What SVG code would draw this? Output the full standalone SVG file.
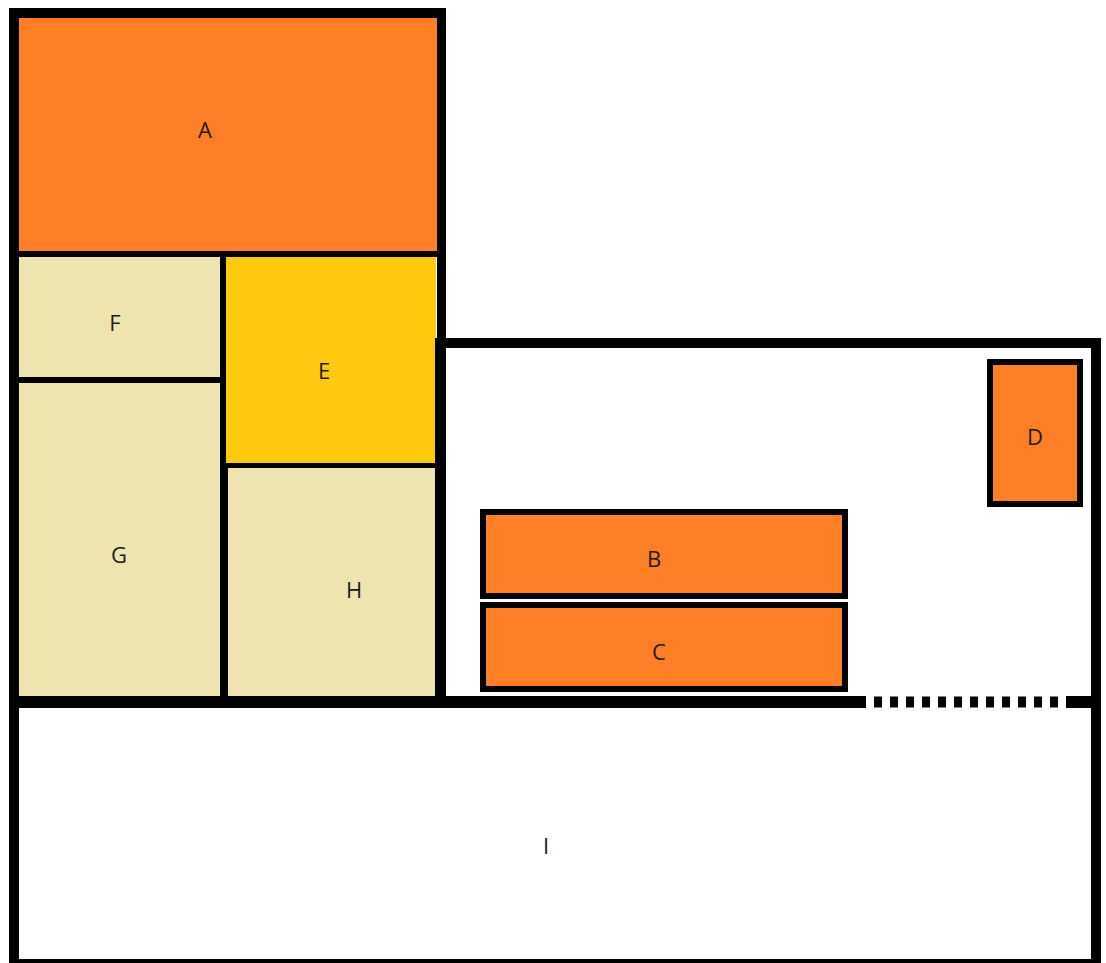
<svg xmlns="http://www.w3.org/2000/svg" width="1106" height="963" viewBox="0 0 1106 963">
<style>
.or{fill:#FF7F27}
.gd{fill:#FFC90E}
.tn{fill:#EFE4B0}
.wl{fill:#000}
.box{fill:#FF7F27;stroke:#000;stroke-width:6}
.lb{font-family:"Open Sans","Liberation Sans",sans-serif;font-size:22px;fill:#1a1a1a;text-anchor:middle}
</style>
<rect width="1106" height="963" fill="#fff"/>
<g id="A"><rect class="or" x="19" y="18" width="418" height="233"/><text class="lb" x="205" y="138">A</text></g>
<g id="F"><rect class="tn" x="19" y="257" width="201" height="120"/><text class="lb" x="115" y="331">F</text></g>
<g id="G"><rect class="tn" x="19" y="383" width="201" height="313"/><text class="lb" x="119" y="563">G</text></g>
<g id="E"><rect class="gd" x="226" y="257" width="210" height="206"/><text class="lb" x="324" y="379">E</text></g>
<g id="H"><rect class="tn" x="228" y="468" width="208" height="228"/><text class="lb" x="354" y="598">H</text></g>
<g id="I"><text class="lb" x="546" y="854">I</text></g>
<g id="B"><rect class="box" x="483" y="512" width="362" height="84"/><text class="lb" x="654" y="567">B</text></g>
<g id="C"><rect class="box" x="483" y="605" width="362" height="84"/><text class="lb" x="659" y="660">C</text></g>
<g id="D"><rect class="box" x="990" y="362" width="90" height="142"/><text class="lb" x="1035" y="445">D</text></g>
<g id="walls">
<rect class="wl" x="9" y="8" width="10" height="955"/>
<rect class="wl" x="9" y="8" width="437" height="10"/>
<rect class="wl" x="437" y="8" width="9" height="700"/>
<rect class="wl" x="435" y="338" width="11" height="370"/>
<rect class="wl" x="9" y="251" width="437" height="6"/>
<rect class="wl" x="220" y="251" width="6" height="217"/>
<rect class="wl" x="220" y="463" width="8" height="245"/>
<rect class="wl" x="9" y="377" width="217" height="6"/>
<rect class="wl" x="220" y="463" width="226" height="5"/>
<rect class="wl" x="435" y="338" width="666" height="10"/>
<rect class="wl" x="1091" y="338" width="10" height="625"/>
<rect class="wl" x="9" y="696" width="857" height="12"/>
<line x1="874" y1="702" x2="1058" y2="702" stroke="#000" stroke-width="11" stroke-dasharray="8 8"/>
<rect class="wl" x="1066" y="696" width="30" height="12"/>
<rect class="wl" x="9" y="959" width="1092" height="10"/>
</g>
</svg>
